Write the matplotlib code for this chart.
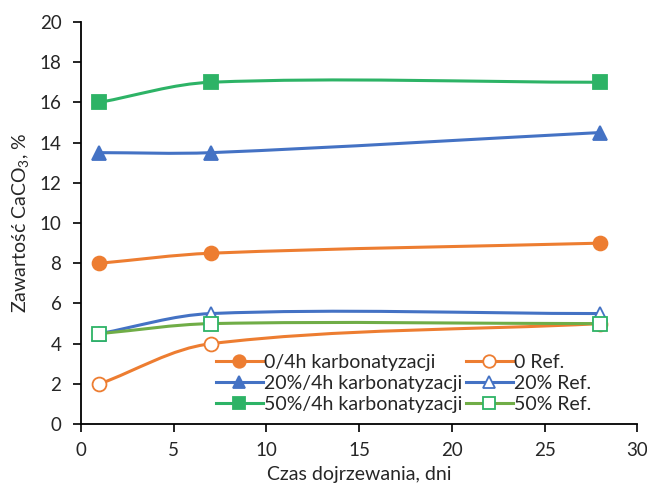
import numpy as np
import matplotlib
matplotlib.use("Agg")
import matplotlib.pyplot as plt
from matplotlib.path import Path
from matplotlib.patches import PathPatch
from matplotlib.lines import Line2D

plt.rcParams['font.family'] = ['Lato', 'DejaVu Sans']
plt.rcParams['mathtext.default'] = 'regular'

# ── data ──────────────────────────────────────────────────────────────────────
days = [1, 7, 28]
carb_0 = [8.0, 8.5, 9.0]
ref_0 = [2.0, 4.0, 5.0]
carb_20 = [13.5, 13.5, 14.5]
ref_20 = [4.5, 5.5, 5.5]
carb_50 = [16.0, 17.0, 17.0]
ref_50 = [4.5, 5.0, 5.0]

labels = ['0/4h karbonatyzacji', '0 Ref.',
          '20%/4h karbonatyzacji', '20% Ref.',
          '50%/4h karbonatyzacji', '50% Ref.']

ORANGE = '#ED7D31'
BLUE = '#4472C4'
GREEN = '#2DB366'
LGREEN = '#70AD47'
TEXT = '#262626'

W, H = 647, 487
fig, ax = plt.subplots(figsize=(W / 100, H / 100), dpi=100)
fig.subplots_adjust(left=0.125, right=0.985, bottom=0.129, top=0.955)
ax.set_xlim(0, 30)
ax.set_ylim(0, 20)

# pixel scale of one data unit (so the smoothing is done in screen space)
bb = ax.get_position()
sx = bb.width * W / 30
sy = bb.height * H / 20


def smooth_path(x, y):
    """Smoothed line: cubic Bezier, tangents from neighbours, handle ~ segment/3."""
    p = np.column_stack([np.asarray(x) * sx, np.asarray(y) * sy]).astype(float)
    n = len(p)
    tang = []
    for i in range(n):
        a = p[i - 1] if i > 0 else p[i]
        b = p[i + 1] if i < n - 1 else p[i]
        d = b - a
        tang.append(d / np.linalg.norm(d))
    verts = [p[0]]
    codes = [Path.MOVETO]
    for i in range(n - 1):
        L = np.linalg.norm(p[i + 1] - p[i]) / 3
        c1 = p[i] + tang[i] * L
        c2 = p[i + 1] - tang[i + 1] * L
        verts += [c1, c2, p[i + 1]]
        codes += [Path.CURVE4] * 3
    v = np.array(verts)
    v[:, 0] /= sx
    v[:, 1] /= sy
    return Path(v, codes)


series = [
    (carb_0, ORANGE, ORANGE, 'o', ORANGE),
    (ref_0, ORANGE, ORANGE, 'o', 'white'),
    (carb_20, BLUE, BLUE, '^', BLUE),
    (ref_20, BLUE, BLUE, '^', 'white'),
    (carb_50, GREEN, GREEN, 's', GREEN),
    (ref_50, LGREEN, GREEN, 's', 'white'),
]

for vals, lc, mec, mk, mfc in series:
    ax.add_patch(PathPatch(smooth_path(days, vals), fill=False,
                           edgecolor=lc, lw=2.2, zorder=2))
    ax.plot(days, vals, ls='none', marker=mk, markersize=10,
            mfc=mfc, mec=mec, mew=1.3, zorder=3)

# legend, filled row by row
leg_handles = [Line2D([], [], color=s[1], lw=2.2, marker=s[3], markersize=9,
                      mfc=s[4], mec=s[2], mew=1.3) for s in series]
order = [0, 2, 4, 1, 3, 5]
ax.legend([leg_handles[i] for i in order], [labels[i] for i in order],
          ncol=2, frameon=False, loc='upper left',
          bbox_to_anchor=(216 / W, 1 - 354 / H), bbox_transform=fig.transFigure,
          fontsize=14, handlelength=2.4, handletextpad=0.05,
          columnspacing=0.2, labelspacing=0.2, borderpad=0, borderaxespad=0,
          labelcolor=TEXT)

ax.set_xticks(range(0, 31, 5))
ax.set_yticks(range(0, 21, 2))
ax.tick_params(labelsize=13.5, length=6, width=1.2, color='black',
               labelcolor=TEXT)
ax.tick_params(axis='x', pad=7)
ax.tick_params(axis='y', pad=8)
for side in ('top', 'right'):
    ax.spines[side].set_visible(False)
for side in ('left', 'bottom'):
    ax.spines[side].set_linewidth(1.3)
ax.set_xlabel('Czas dojrzewania, dni', fontsize=14, color=TEXT, labelpad=5)
ax.set_ylabel('Zawartość CaCO$_3$, %', fontsize=14, color=TEXT, labelpad=6)

fig.savefig('out.png', dpi=100)
